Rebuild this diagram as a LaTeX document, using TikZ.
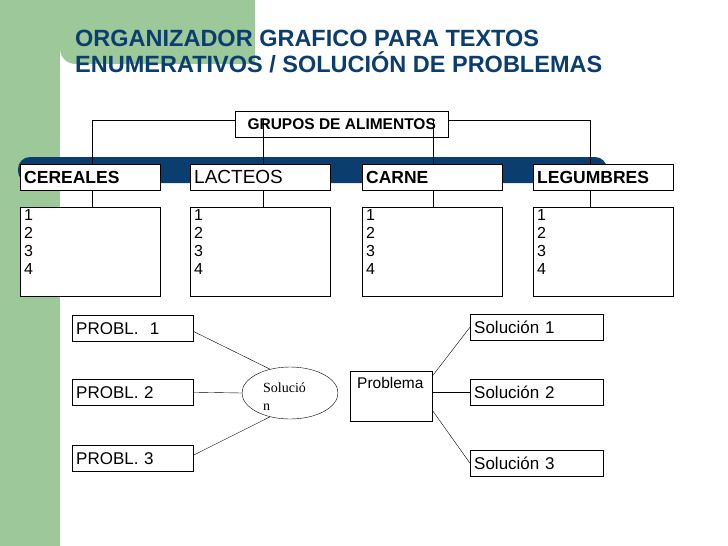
\documentclass[tikz,border=0pt]{standalone}
\usepackage{fontspec}
\setmainfont{Liberation Sans}
\newfontfamily\serifface{Liberation Serif}
\usepackage{tikz}
\usetikzlibrary{shapes.geometric}
\definecolor{sage}{HTML}{9CC89A}
\definecolor{navy}{HTML}{0B3D6E}
\tikzset{
  box/.style={draw=black, fill=white, anchor=north west, inner xsep=4pt, inner ysep=0pt, align=left},
  hd/.style={box, text width=132pt, minimum height=26pt},
  lst/.style={box, text width=132pt, minimum height=89pt, text depth=74pt, inner ysep=2pt,
    font=\fontsize{16}{18}\selectfont},
  sm/.style={box, minimum height=26pt, font=\fontsize{17}{18}\selectfont}
}
\begin{document}
\begin{tikzpicture}[x=1pt, y=-1pt]
\useasboundingbox (0,0) rectangle (728,546);

% background
\fill[sage] (0,0) rectangle (255,75);
\fill[sage] (0,0) rectangle (60,546);
\fill[white] (255,64) -- (75,64) arc (90:180:15) -- (60,546) -- (728,546) -- (728,64) -- cycle;
\fill[navy, rounded corners=12pt] (18,157) rectangle (607,183);

% title
\node[anchor=north west, text=navy, align=left, font=\bfseries\fontsize{23.5}{26}\selectfont,
  inner sep=0pt] (title) at (75,30) {ORGANIZADOR GRAFICO PARA TEXTOS\\ENUMERATIVOS / SOLUCIÓN DE PROBLEMAS};

% tree
\draw (92,120) -- (590,120);
\node[box, minimum width=213pt, minimum height=26pt, font=\bfseries\fontsize{15.5}{16}\selectfont, align=center] (grupos) at (235,111) {GRUPOS DE ALIMENTOS};
\foreach \x/\c/\nm/\lb/\ft in {20/92/cer/CEREALES/\bfseries\fontsize{17.5}{18}\selectfont,
    190/263/lac/LACTEOS/\fontsize{19}{20}\selectfont,
    362/433/car/CARNE/\bfseries\fontsize{17.5}{18}\selectfont,
    533/590/leg/LEGUMBRES/\bfseries\fontsize{17.5}{18}\selectfont}{
  \draw (\c,120) -- (\c,207);
  \node[hd, font=\ft] (\nm) at (\x,164) {\lb};
  \node[lst] (\nm n) at (\x,207) {1\\2\\3\\4};
  \draw (\c,190) -- (\c,207);
}

% problems
\node[sm, text width=113pt] (p1) at (72,315) {PROBL.\ \ 1};
\node[sm, text width=113pt] (p2) at (72,379) {PROBL. 2};
\node[sm, text width=113pt] (p3) at (72,445) {PROBL. 3};
\node[draw, ellipse, minimum width=96pt, minimum height=52pt, inner sep=0pt] (sol) at (290,393) {};
\node[anchor=north west, font=\serifface\fontsize{14}{18}\selectfont, inner sep=0pt, align=left] (solt) at (263,383) {Solució\\n};
\draw (p1.south east) ++(0,-10) -- (sol.130);
\draw (p2.east) -- (sol.west);
\draw (p3.east) ++(0,-3) -- (sol.230);

\node[box, minimum width=82pt, minimum height=50pt] (prob) at (350,371) {};
\node[anchor=north west, font=\fontsize{15.5}{16}\selectfont, inner sep=0pt] (probt) at (357,377) {Problema};
\node[sm, text width=125pt] (s1) at (470,314) {Solución 1};
\node[sm, text width=125pt] (s2) at (470,379) {Solución 2};
\node[sm, text width=125pt] (s3) at (470,450) {Solución 3};
\draw (prob.north east) ++(0,5) -- (s1.west);
\draw (s2.west) -- (s2.west -| prob.east);
\draw (prob.south east) ++(0,-11) -- (s3.west);
\end{tikzpicture}
\end{document}
